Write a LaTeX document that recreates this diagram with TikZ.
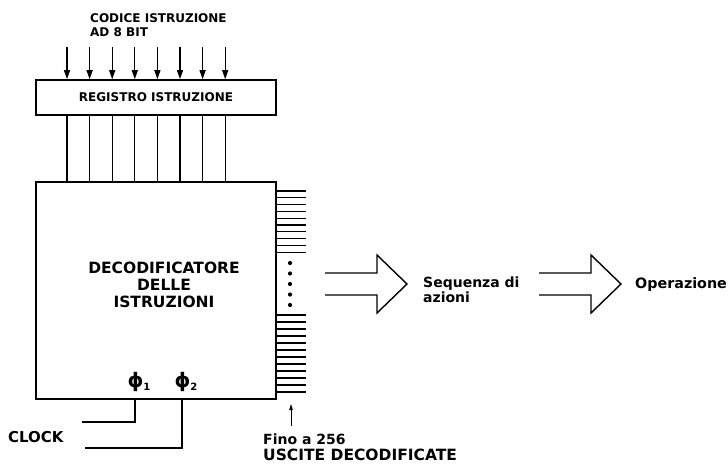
\documentclass[tikz,border=0pt]{standalone}
\usepackage{fontspec}
\setmainfont{DejaVu Sans}
\usepackage{tikz}
\usetikzlibrary{arrows.meta, positioning, calc}

\newcommand{\phase}[1]{{\fontsize{20}{20}\selectfont ϕ}\raisebox{-3pt}{\fontsize{10}{10}\selectfont #1}}

\begin{document}
\begin{tikzpicture}[
  x=1pt, y=-1pt,
  box/.style={rectangle, draw, line width=1.6pt, inner sep=0pt},
  txt/.style={inner sep=0pt, font=\bfseries\fontsize{#1}{#1}\selectfont},
  txt/.default=14,
  wire/.style={line width=1.2pt},
  bit/.style={line width=1.2pt, -{Triangle[length=9pt,width=6pt]}},
  bigarrow/.pic={\draw[line width=1.4pt, miter limit=20] (0,-11) -- (52,-11) -- (52,-29) -- (82,0) -- (52,29) -- (52,11) -- (0,11);}
]
  \useasboundingbox (0,0) rectangle (728,464);

  % register and decoder
  \node[box, minimum width=240pt, minimum height=35pt] (reg) at (156,97.5)
    {\bfseries\fontsize{12}{12}\selectfont REGISTRO ISTRUZIONE};
  \node[box, minimum width=240pt, minimum height=217pt] (dec) at (156,290.5) {};
  \node[txt=15.5, align=center, font=\bfseries\fontsize{15.5}{17}\selectfont] (dectxt) at (164,285)
    {DECODIFICATORE\\DELLE\\ISTRUZIONI};

  \node[txt=12, align=left, anchor=north west, font=\bfseries\fontsize{12}{14}\selectfont] (codice) at (90,13)
    {CODICE ISTRUZIONE\\AD 8 BIT};

  % 8 bit lines
  \foreach \i in {0,...,7} {
    \pgfmathsetmacro\x{67+22.6*\i}
    \coordinate (bit\i) at (\x,47);
    \draw[bit] (bit\i) -- (bit\i |- reg.north);
    \draw[wire] (bit\i |- reg.south) -- (bit\i |- dec.north);
  }

  % decoded outputs
  \foreach \y in {0,...,9}
    \draw[line width=1.3pt] (dec.east |- 0,191+6.8*\y) -- ++(29,0);
  \foreach \y in {0,...,11}
    \draw[line width=1.3pt] (dec.east |- 0,315+7*\y) -- ++(29,0);
  \foreach \y in {263,273.5,284,294.5,305}
    \fill (290,\y) circle (2.1pt);

  \coordinate (outs) at (291,404);
  \node[txt=14, anchor=base west] (fino) at (263,444) {Fino a 256};
  \node[txt=15.5, below=16pt of fino.base west, anchor=base west] (uscite) {USCITE DECODIFICATE};
  \draw[line width=1pt, -{Triangle[length=6pt,width=3.5pt]}] ([yshift=7pt]fino.north -| outs) -- (outs);

  % clock phases
  \node[inner sep=0pt, font=\bfseries] (p1) at (139,382) {\phase{1}};
  \node[inner sep=0pt, font=\bfseries] (p2) at (186,382) {\phase{2}};
  \node[txt=15, anchor=base west] (clock) at (8,442) {CLOCK};
  \coordinate (clkA) at (82,422);
  \coordinate (clkB) at (85,448);
  \draw[wire] (dec.south -| 135,0) |- (clkA);
  \draw[wire] (dec.south -| 182,0) |- (clkB);

  % actions
  \pic at (325,284) {bigarrow};
  \node[txt=14, align=left, anchor=west, font=\bfseries\fontsize{14}{15.5}\selectfont] (seq) at (423,290)
    {Sequenza di\\azioni};
  \pic at (539,284) {bigarrow};
  \node[txt=14.3, anchor=base west] (oper) at (635,288) {Operazione};
\end{tikzpicture}
\end{document}
